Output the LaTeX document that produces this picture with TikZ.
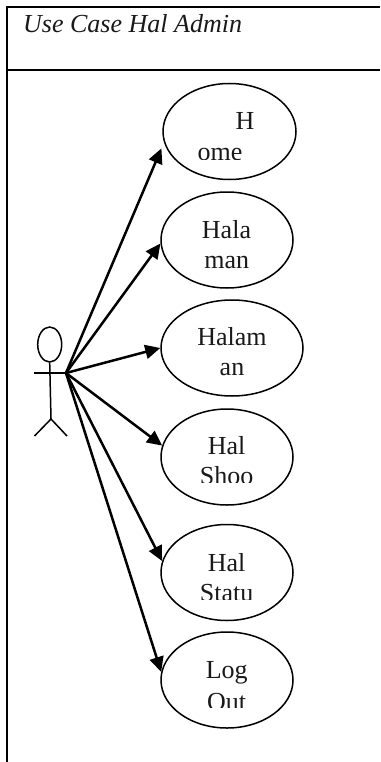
\documentclass[tikz,border=0pt]{standalone}
\usepackage{fontspec}
\setmainfont{Liberation Serif}
\usetikzlibrary{arrows.meta,shapes.geometric}
\tikzset{
  frameline/.style={line width=2.2pt,black},
  usecase/.style={draw,ellipse,line width=1.5pt,minimum width=#1,minimum height=96pt,inner sep=0pt},
  usecase/.default=132pt,
  stick/.style={line width=1.5pt},
  assoc/.style={line width=2.5pt,-{Triangle[length=15pt,width=14pt]},shorten >=0pt},
  lbl/.style={font=\fontsize{26}{30}\selectfont,inner sep=0pt,text=black!90},
}
\begin{document}
\begin{tikzpicture}[x=1pt,y=-1pt]
\useasboundingbox (0,0) rectangle (380,762);
\draw[frameline] (7,762) -- (7,7) -- (380,7);
\draw[frameline] (7,70) -- (380,70);
\node[anchor=base west,inner sep=0pt,font=\fontsize{26}{30}\itshape\selectfont,text=black!90] (title) at (23,32.5) {Use Case Hal Admin};
% use cases
\node[usecase=133pt] (home) at (229.5,131.5) {};
\node[usecase] (hal1) at (227,240) {};
\node[usecase=142pt] (hal2) at (232,348) {};
\node[usecase] (shop) at (227,457) {};
\node[usecase] (stat) at (227,572.5) {};
\node[usecase] (logo) at (227,680) {};
% labels
\node[lbl,anchor=base] (t1) at (245,129.5) {H};
\begin{scope}\clip (150,140) rectangle (300,159.5);
\node[lbl,anchor=base] (t2) at (220,160.5) {ome};
\end{scope}
\node[lbl,anchor=base] (t3) at (226.5,238.5) {Hala};
\node[lbl,anchor=base] (t4) at (226.7,268) {man};
\node[lbl,anchor=base] (t5) at (232,345.5) {Halam};
\node[lbl,anchor=base] (t6) at (232,375.5) {an};
\node[lbl,anchor=base] (t7) at (226.7,454.5) {Hal};
\begin{scope}\clip (150,460) rectangle (300,482.7);
\node[lbl,anchor=base] (t8) at (226.7,484) {Shoo};
\end{scope}
\node[lbl,anchor=base] (t9) at (226.7,571.5) {Hal};
\begin{scope}\clip (150,577) rectangle (300,599);
\node[lbl,anchor=base] (t10) at (226.7,601) {Statu};
\end{scope}
\node[lbl,anchor=base] (t11) at (226.7,678.5) {Log};
\begin{scope}\clip (150,688) rectangle (300,707);
\node[lbl,anchor=base] (t12) at (226.7,710) {Out};
\end{scope}
% actor
\node[draw,ellipse,stick,minimum width=24pt,minimum height=35pt,inner sep=0pt] (head) at (49.7,344.5) {};
\coordinate (hand) at (66,373);
\coordinate (lhand) at (34,373);
\coordinate (hip) at (51,419);
\coordinate (lfoot) at (34.5,436);
\coordinate (rfoot) at (67,436);
\draw[stick] (lhand) -- (hand);
\draw[stick] (head.south) -- (hip);
\draw[stick] (lfoot) -- (hip) -- (rfoot);
% associations
\draw[assoc] (hand) -- ([xshift=-5pt]home.195);
\draw[assoc] (hand) -- (hal1.183);
\draw[assoc] (hand) -- (hal2.180);
\draw[assoc] (hand) -- (shop.170);
\draw[assoc] (hand) -- (stat.170);
\draw[assoc] (hand) -- (logo.173);
\end{tikzpicture}
\end{document}
